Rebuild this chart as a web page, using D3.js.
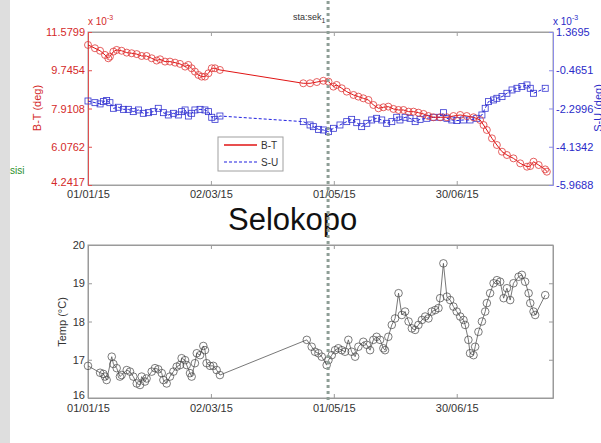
<!DOCTYPE html>
<html>
<head>
<meta charset="utf-8">
<script src="https://cdn.jsdelivr.net/npm/d3@7"></script>
<style>
  body { margin: 0; background: #fff; }
  svg { display: block; font-family: "Liberation Sans", Arial, sans-serif; }
</style>
</head>
<body>
<svg id="chart" width="601" height="443"></svg>
<script>
// days counted from 01/01/15
var btDays = [0,3.4,5.9,8.3,9.9,10.7,12.4,14.0,16.4,18.9,21.3,23.8,26.2,28.6,31.1,33.5,35.2,37.6,40.0,42.5,44.9,47.4,49.0,50.6,52.2,53.9,55.5,57.1,58.8,60.4,62.0,64.4,
  105.1,108.4,111.7,114.9,117.4,119.8,121.4,123.9,126.3,129.6,132.0,134.4,136.9,139.3,141.8,144.2,146.6,149.1,151.6,154.0,156.5,158.9,161.3,163.8,166.2,168.6,171.9,175.2,178.4,181.7,184.9,188.2,191.4,193.1,194.7,197.2,199.6,202.1,204.5,207.7,211.0,214.3,215.9,217.5,220.0,223.2,224.0];
var btVals = [10.96,10.80,10.68,10.48,10.32,10.40,10.64,10.72,10.68,10.59,10.56,10.52,10.43,10.43,10.32,10.21,10.27,10.16,10.16,10.11,10.05,9.92,10.00,9.84,9.68,9.52,9.44,9.44,9.60,9.84,9.84,9.76,
  9.12,9.12,9.18,9.24,9.20,8.96,9.04,8.88,8.72,8.56,8.48,8.40,8.32,8.08,7.92,7.97,8.00,7.89,7.84,7.84,7.76,7.76,7.71,7.65,7.55,7.49,7.49,7.49,7.55,7.60,7.55,7.49,7.36,7.12,6.88,6.48,6.16,5.84,5.68,5.52,5.28,5.12,5.15,5.36,5.20,4.99,4.88];

var suDays = [0,3.4,5.9,7.5,9.1,10.7,12.4,14.8,17.3,19.7,22.1,24.6,27.0,29.5,31.9,34.3,36.8,39.2,41.7,44.1,45.7,47.4,49.0,50.6,52.2,54.7,57.1,58.8,60.4,62.0,64.4,
  105.1,108.4,110.0,112.5,114.9,117.4,119.8,123.0,126.3,128.7,131.2,133.6,136.1,138.5,140.9,143.4,145.8,148.3,150.7,152.3,154.8,157.2,159.7,162.1,165.4,168.6,171.9,173.5,175.2,177.6,180.0,183.3,186.5,189.8,192.3,193.9,195.5,198.0,199.6,202.1,204.5,207.0,209.4,211.8,214.3,215.9,217.5,223.2];
var suVals = [-1.94,-2.02,-2.08,-1.97,-1.92,-2.02,-2.29,-2.24,-2.34,-2.34,-2.45,-2.37,-2.53,-2.50,-2.45,-2.29,-2.50,-2.61,-2.53,-2.61,-2.45,-2.37,-2.66,-2.53,-2.37,-2.34,-2.37,-2.45,-2.72,-2.82,-2.66,
  -2.93,-3.09,-3.17,-3.30,-3.33,-3.41,-3.25,-3.09,-2.93,-2.82,-2.98,-3.17,-3.01,-2.85,-2.77,-2.85,-3.01,-2.93,-2.72,-2.85,-2.72,-2.77,-2.93,-2.82,-2.77,-2.72,-2.72,-2.50,-2.77,-2.85,-2.88,-2.85,-2.85,-2.77,-2.61,-2.29,-1.97,-1.89,-1.81,-1.73,-1.57,-1.41,-1.33,-1.25,-1.17,-1.33,-1.57,-1.33];

var tempDays = [0,5.9,7.5,8.3,9.1,11.6,12.4,14.0,15.6,16.4,18.9,20.5,22.1,23.8,25.4,26.2,27.8,28.6,31.1,32.7,34.3,36.0,36.8,38.4,40.0,41.7,43.3,44.9,45.7,47.4,48.2,49.8,50.6,52.2,53.1,54.7,56.3,57.1,57.9,59.6,61.2,62.8,64.4,
  106.8,109.2,110.8,112.5,114.1,116.5,117.4,119.0,120.6,122.2,123.9,125.5,127.1,128.7,130.4,132.0,134.4,136.1,137.7,139.3,140.9,142.6,144.2,145.0,146.6,148.3,149.9,151.6,153.2,154.8,156.5,158.1,159.7,161.3,163.0,164.6,166.2,167.8,169.5,171.1,171.9,173.5,175.2,176.8,178.4,180.0,181.7,183.3,184.1,185.7,186.5,188.2,189.0,190.6,192.3,193.9,194.7,196.3,198.0,199.6,201.2,202.9,204.5,206.1,207.7,210.2,211.8,213.4,215.1,215.9,217.5,218.3,223.2];
var tempVals = [16.84,16.66,16.63,16.56,16.47,17.08,16.89,16.78,16.56,16.60,16.73,16.69,16.56,16.38,16.34,16.56,16.43,16.51,16.69,16.78,16.75,16.65,16.47,16.38,16.56,16.69,16.82,16.86,17.04,16.99,16.86,16.65,16.56,16.91,17.17,17.12,17.36,17.25,16.91,16.84,16.84,16.73,16.60,
  17.52,17.34,17.21,17.17,17.08,16.86,16.99,17.12,17.25,17.30,17.25,17.21,17.52,17.21,17.08,17.34,17.47,17.39,17.25,17.52,17.60,17.52,17.30,17.25,17.60,17.91,18.08,18.74,18.17,18.26,18.00,17.82,17.78,17.91,18.04,18.13,18.08,18.26,18.30,18.35,18.61,19.52,18.65,18.56,18.39,18.26,18.13,18.04,17.91,17.52,17.17,17.12,17.34,17.73,18.00,18.26,18.48,18.74,19.00,19.08,19.04,18.61,18.87,18.56,19.00,19.17,19.22,19.04,18.74,18.48,18.26,18.17,18.69];

var xTickDays = [0, 60, 120, 180];
var xTickLabels = ["01/01/15", "02/03/15", "01/05/15", "30/06/15"];
var leftTicks = [4.2417, 6.0762, 7.9108, 9.7454, 11.5799];
var leftLabels = ["4.2417", "6.0762", "7.9108", "9.7454", "11.5799"];
var rightTicks = [-5.9688, -4.1342, -2.2996, -0.4651, 1.3695];
var rightLabels = ["-5.9688", "-4.1342", "-2.2996", "-0.4651", "1.3695"];
var tempTicks = [16, 17, 18, 19, 20];
var markerDay = 117.2;

var svg = d3.select("#chart");
var left = 88, right = 553;
var top1 = 32, bot1 = 185, top2 = 245, bot2 = 398;

// gray strip on the left
svg.append("rect").attr("x", 0).attr("y", 0).attr("width", 10).attr("height", 443).attr("fill", "#dedede");
svg.append("text").attr("x", 10).attr("y", 174).attr("font-size", 10).attr("fill", "#2a8f2a").text("sisi");

var x = d3.scaleLinear().domain([0, 227]).range([left, right]);
var yL = d3.scaleLinear().domain([4.2417, 11.5799]).range([bot1, top1]);
var yR = d3.scaleLinear().domain([-5.9688, 1.3695]).range([bot1, top1]);
var yT = d3.scaleLinear().domain([16, 20]).range([bot2, top2]);

function styleAxis(g, color, textColor) {
  g.select(".domain").attr("stroke", color);
  g.selectAll(".tick line").attr("stroke", color);
  g.selectAll(".tick text").attr("fill", textColor).attr("font-size", 11).attr("font-family", "Liberation Sans, Arial, sans-serif");
}
// lowest y label sits a little higher so it clears the date labels
function liftFirst(g) {
  g.selectAll(".tick text").filter(function(d, i) { return i === 0; }).attr("y", -3);
}

// ---------- top plot ----------
svg.append("rect").attr("x", left).attr("y", top1).attr("width", right - left).attr("height", bot1 - top1)
  .attr("fill", "#fff").attr("stroke", "#a0a0a0");

var gx1 = svg.append("g").attr("transform", "translate(0," + bot1 + ")")
  .call(d3.axisBottom(x).tickValues(xTickDays).tickSize(-4).tickSizeOuter(0).tickPadding(5)
    .tickFormat(function(d, i) { return xTickLabels[i]; }));
styleAxis(gx1, "#a0a0a0", "#333");
var gx1t = svg.append("g").attr("transform", "translate(0," + top1 + ")")
  .call(d3.axisTop(x).tickValues(xTickDays).tickSize(-4).tickSizeOuter(0).tickFormat(""));
styleAxis(gx1t, "#a0a0a0", "#333");

var gyL = svg.append("g").attr("transform", "translate(" + left + ",0)")
  .call(d3.axisLeft(yL).tickValues(leftTicks).tickSize(-4).tickSizeOuter(0).tickPadding(3)
    .tickFormat(function(d, i) { return leftLabels[i]; }));
styleAxis(gyL, "#e05050", "#d42a2a");
liftFirst(gyL);
var gyR = svg.append("g").attr("transform", "translate(" + right + ",0)")
  .call(d3.axisRight(yR).tickValues(rightTicks).tickSize(-4).tickSizeOuter(0).tickPadding(3)
    .tickFormat(function(d, i) { return rightLabels[i]; }));
styleAxis(gyR, "#8c8ce8", "#2a2ac8");

// exponent labels
var exL = svg.append("text").attr("x", left).attr("y", 25).attr("font-size", 10).attr("fill", "#d42a2a");
exL.append("tspan").text("x 10");
exL.append("tspan").attr("dy", -5).attr("font-size", 7).text("-3");
var exR = svg.append("text").attr("x", right).attr("y", 25).attr("font-size", 10).attr("fill", "#2a2ac8");
exR.append("tspan").text("x 10");
exR.append("tspan").attr("dy", -5).attr("font-size", 7).text("-3");

svg.append("text").attr("transform", "translate(41,108) rotate(-90)").attr("text-anchor", "middle")
  .attr("font-size", 11).attr("fill", "#d42a2a").text("B-T (deg)");
svg.append("text").attr("transform", "translate(602,108) rotate(-90)").attr("text-anchor", "middle")
  .attr("font-size", 11).attr("fill", "#2a2ac8").text("S-U (deg)");

// title
var ttl = svg.append("text").attr("x", 293).attr("y", 20).attr("font-size", 9).attr("fill", "#333");
ttl.append("tspan").text("sta:sek");
ttl.append("tspan").attr("dy", 3).attr("font-size", 7).text("1");

var btData = btDays.map(function(d, i) { return [d, btVals[i]]; });
var suData = suDays.map(function(d, i) { return [d, suVals[i]]; });

svg.append("path").datum(suData)
  .attr("d", d3.line().x(function(d) { return x(d[0]); }).y(function(d) { return yR(d[1]); }))
  .attr("fill", "none").attr("stroke", "#2020e0").attr("stroke-width", 1).attr("stroke-dasharray", "3,2");
svg.selectAll(".su").data(suData).join("rect").attr("class", "su")
  .attr("x", function(d) { return x(d[0]) - 3; }).attr("y", function(d) { return yR(d[1]) - 3; })
  .attr("width", 6).attr("height", 6).attr("fill", "none").attr("stroke", "#3434d0").attr("stroke-width", 0.8);

svg.append("path").datum(btData)
  .attr("d", d3.line().x(function(d) { return x(d[0]); }).y(function(d) { return yL(d[1]); }))
  .attr("fill", "none").attr("stroke", "#e01414").attr("stroke-width", 1);
svg.selectAll(".bt").data(btData).join("circle").attr("class", "bt")
  .attr("cx", function(d) { return x(d[0]); }).attr("cy", function(d) { return yL(d[1]); })
  .attr("r", 3.5).attr("fill", "none").attr("stroke", "#e03838").attr("stroke-width", 0.8);

// legend
var lg = svg.append("g");
lg.append("rect").attr("x", 218).attr("y", 137).attr("width", 65).attr("height", 34)
  .attr("fill", "#fff").attr("stroke", "#a0a0a0");
lg.append("line").attr("x1", 224).attr("x2", 257).attr("y1", 145).attr("y2", 145)
  .attr("stroke", "#e01414").attr("stroke-width", 1.3);
lg.append("line").attr("x1", 224).attr("x2", 257).attr("y1", 162).attr("y2", 162)
  .attr("stroke", "#2020e0").attr("stroke-width", 1.2).attr("stroke-dasharray", "3,2");
lg.append("text").attr("x", 261).attr("y", 149).attr("font-size", 10).attr("fill", "#333").text("B-T");
lg.append("text").attr("x", 261).attr("y", 166).attr("font-size", 10).attr("fill", "#333").text("S-U");

// station name
svg.append("text").attr("x", 228).attr("y", 230).attr("font-size", 31).attr("fill", "#111").text("Selokopo");

// ---------- bottom plot ----------
svg.append("rect").attr("x", left).attr("y", top2).attr("width", right - left).attr("height", bot2 - top2)
  .attr("fill", "none").attr("stroke", "#9a9a9a");
var gx2 = svg.append("g").attr("transform", "translate(0," + bot2 + ")")
  .call(d3.axisBottom(x).tickValues(xTickDays).tickSize(-4).tickSizeOuter(0).tickPadding(6)
    .tickFormat(function(d, i) { return xTickLabels[i]; }));
styleAxis(gx2, "#9a9a9a", "#333");
var gx2t = svg.append("g").attr("transform", "translate(0," + top2 + ")")
  .call(d3.axisTop(x).tickValues(xTickDays).tickSize(-4).tickSizeOuter(0).tickFormat(""));
styleAxis(gx2t, "#9a9a9a", "#333");
var gyT = svg.append("g").attr("transform", "translate(" + left + ",0)")
  .call(d3.axisLeft(yT).tickValues(tempTicks).tickSize(-4).tickSizeOuter(0).tickPadding(3).tickFormat(d3.format("d")));
styleAxis(gyT, "#9a9a9a", "#333");
liftFirst(gyT);
var gyT2 = svg.append("g").attr("transform", "translate(" + right + ",0)")
  .call(d3.axisRight(yT).tickValues(tempTicks).tickSize(-4).tickSizeOuter(0).tickFormat(""));
styleAxis(gyT2, "#9a9a9a", "#333");

svg.append("text").attr("transform", "translate(66,322) rotate(-90)").attr("text-anchor", "middle")
  .attr("font-size", 11).attr("fill", "#333").text("Temp (°C)");

var tData = tempDays.map(function(d, i) { return [d, tempVals[i]]; });
svg.append("path").datum(tData)
  .attr("d", d3.line().x(function(d) { return x(d[0]); }).y(function(d) { return yT(d[1]); }))
  .attr("fill", "none").attr("stroke", "#555").attr("stroke-width", 0.8);
svg.selectAll(".tp").data(tData).join("circle").attr("class", "tp")
  .attr("cx", function(d) { return x(d[0]); }).attr("cy", function(d) { return yT(d[1]); })
  .attr("r", 3.8).attr("fill", "none").attr("stroke", "#444").attr("stroke-width", 0.7);

// dotted marker line across both plots
svg.append("line").attr("x1", x(markerDay)).attr("x2", x(markerDay)).attr("y1", 1).attr("y2", 400)
  .attr("stroke", "#8e9e96").attr("stroke-width", 3).attr("stroke-dasharray", "3,3");
</script>
</body>
</html>
